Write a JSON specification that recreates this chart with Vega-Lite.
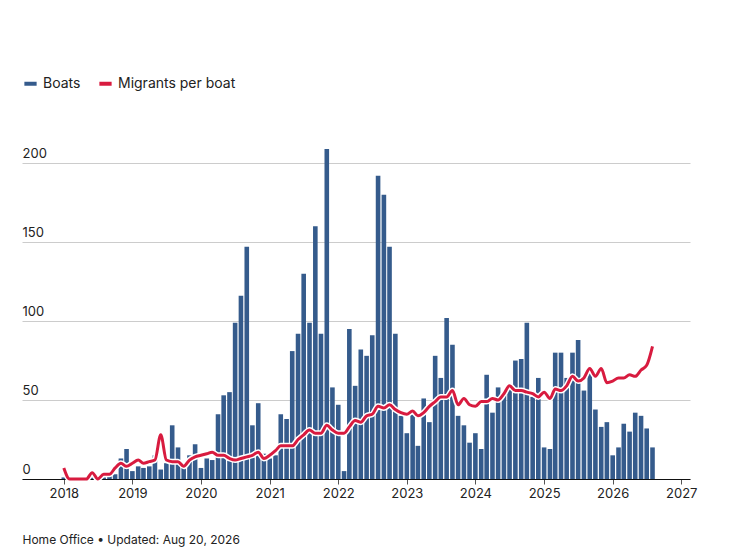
{
  "$schema": "https://vega.github.io/schema/vega-lite/v6.json",
  "autosize": "none",
  "width": 668,
  "height": 349,
  "padding": {"left": 22, "top": 130, "right": 44, "bottom": 79},
  "background": "white",
  "config": {"font": "Inter", "view": {"stroke": null}},
  "title": {"text": "Monthly boats crossing and average migrants per boat", "anchor": "start", "frame": "group", "fontSize": 19, "fontWeight": 700, "color": "#111", "offset": 78},
  "data": {"values": [
    {"d":"2018-01-01","b":1,"m":7},{"d":"2018-02-01","b":0,"m":0},{"d":"2018-03-01","b":0,"m":0},{"d":"2018-04-01","b":0,"m":0},{"d":"2018-05-01","b":0,"m":0},{"d":"2018-06-01","b":1,"m":4},{"d":"2018-07-01","b":0,"m":0},{"d":"2018-08-01","b":1,"m":3},{"d":"2018-09-01","b":2,"m":3},{"d":"2018-10-01","b":3,"m":7},{"d":"2018-11-01","b":13,"m":10},{"d":"2018-12-01","b":19,"m":8},
    {"d":"2019-01-01","b":5,"m":10},{"d":"2019-02-01","b":8,"m":12},{"d":"2019-03-01","b":7,"m":10},{"d":"2019-04-01","b":8,"m":11},{"d":"2019-05-01","b":15,"m":12},{"d":"2019-06-01","b":6,"m":28},{"d":"2019-07-01","b":10,"m":12},{"d":"2019-08-01","b":34,"m":11},{"d":"2019-09-01","b":20,"m":11},{"d":"2019-10-01","b":7,"m":8},{"d":"2019-11-01","b":15,"m":12},{"d":"2019-12-01","b":22,"m":14},
    {"d":"2020-01-01","b":7,"m":15},{"d":"2020-02-01","b":13,"m":16},{"d":"2020-03-01","b":12,"m":17},{"d":"2020-04-01","b":41,"m":15},{"d":"2020-05-01","b":53,"m":15},{"d":"2020-06-01","b":55,"m":13},{"d":"2020-07-01","b":99,"m":12},{"d":"2020-08-01","b":116,"m":13},{"d":"2020-09-01","b":147,"m":14},{"d":"2020-10-01","b":34,"m":15},{"d":"2020-11-01","b":48,"m":17},{"d":"2020-12-01","b":16,"m":13},
    {"d":"2021-01-01","b":13,"m":15},{"d":"2021-02-01","b":15,"m":18},{"d":"2021-03-01","b":41,"m":21},{"d":"2021-04-01","b":38,"m":21},{"d":"2021-05-01","b":81,"m":21},{"d":"2021-06-01","b":92,"m":25},{"d":"2021-07-01","b":130,"m":28},{"d":"2021-08-01","b":99,"m":31},{"d":"2021-09-01","b":160,"m":29},{"d":"2021-10-01","b":92,"m":29},{"d":"2021-11-01","b":209,"m":34},{"d":"2021-12-01","b":58,"m":31},
    {"d":"2022-01-01","b":47,"m":29},{"d":"2022-02-01","b":5,"m":29},{"d":"2022-03-01","b":95,"m":33},{"d":"2022-04-01","b":59,"m":37},{"d":"2022-05-01","b":82,"m":36},{"d":"2022-06-01","b":78,"m":40},{"d":"2022-07-01","b":91,"m":41},{"d":"2022-08-01","b":192,"m":46},{"d":"2022-09-01","b":180,"m":45},{"d":"2022-10-01","b":147,"m":47},{"d":"2022-11-01","b":92,"m":44},{"d":"2022-12-01","b":40,"m":42},
    {"d":"2023-01-01","b":29,"m":41},{"d":"2023-02-01","b":41,"m":43},{"d":"2023-03-01","b":21,"m":40},{"d":"2023-04-01","b":51,"m":42},{"d":"2023-05-01","b":36,"m":46},{"d":"2023-06-01","b":78,"m":49},{"d":"2023-07-01","b":64,"m":52},{"d":"2023-08-01","b":102,"m":52},{"d":"2023-09-01","b":85,"m":56},{"d":"2023-10-01","b":40,"m":47},{"d":"2023-11-01","b":34,"m":51},{"d":"2023-12-01","b":23,"m":47},
    {"d":"2024-01-01","b":29,"m":46},{"d":"2024-02-01","b":19,"m":49},{"d":"2024-03-01","b":66,"m":49},{"d":"2024-04-01","b":42,"m":51},{"d":"2024-05-01","b":58,"m":50},{"d":"2024-06-01","b":54,"m":54},{"d":"2024-07-01","b":57,"m":59},{"d":"2024-08-01","b":75,"m":56},{"d":"2024-09-01","b":76,"m":56},{"d":"2024-10-01","b":99,"m":55},{"d":"2024-11-01","b":52,"m":54},{"d":"2024-12-01","b":64,"m":52},
    {"d":"2025-01-01","b":20,"m":55},{"d":"2025-02-01","b":19,"m":51},{"d":"2025-03-01","b":80,"m":57},{"d":"2025-04-01","b":80,"m":56},{"d":"2025-05-01","b":64,"m":59},{"d":"2025-06-01","b":80,"m":65},{"d":"2025-07-01","b":88,"m":62},{"d":"2025-08-01","b":56,"m":64},{"d":"2025-09-01","b":68,"m":70},{"d":"2025-10-01","b":44,"m":65},{"d":"2025-11-01","b":33,"m":70},{"d":"2025-12-01","b":36,"m":61},
    {"d":"2026-01-01","b":15,"m":62},{"d":"2026-02-01","b":20,"m":64},{"d":"2026-03-01","b":35,"m":64},{"d":"2026-04-01","b":30,"m":66},{"d":"2026-05-01","b":42,"m":65},{"d":"2026-06-01","b":40,"m":69},{"d":"2026-07-01","b":32,"m":72},{"d":"2026-08-01","b":20,"m":84}
  ]},
  "encoding": {
    "x": {"field": "d", "type": "temporal",
      "scale": {"domain": [{"year": 2017, "month": 6, "date": 19}, {"year": 2027, "month": 1, "date": 21}]},
      "axis": {"values": [{"year":2018},{"year":2019},{"year":2020},{"year":2021},{"year":2022},{"year":2023},{"year":2024},{"year":2025},{"year":2026},{"year":2027}],
        "format": "%Y", "grid": false, "domainColor": "#111", "tickColor": "#555", "tickSize": 5, "labelFontSize": 13, "labelColor": "#222", "labelPadding": 3,
        "title": "Home Office • Updated: Aug 20, 2026", "titleAnchor": "start", "titleX": 0, "titleY": 55, "titleFontWeight": 400, "titleFontSize": 12, "titleColor": "#222"}}
  },
  "layer": [
    {"mark": {"type": "bar", "size": 4.6},
     "encoding": {
       "y": {"field": "b", "type": "quantitative", "scale": {"domain": [0, 221], "nice": false, "zero": false},
         "axis": {"values": [0, 50, 100, 150, 200], "title": null, "domain": false, "ticks": false, "gridColor": "#cccccc", "labelAlign": "left", "labelBaseline": "bottom", "labelPadding": 0, "labelOffset": -3, "labelFontSize": 13, "labelColor": "#222"}},
       "color": {"datum": "Boats", "type": "nominal",
         "scale": {"domain": ["Boats", "Migrants per boat"], "range": ["#355b8c", "#d81b3f"]},
         "legend": {"orient": "none", "legendX": 0, "legendY": -55, "direction": "horizontal", "title": null, "symbolType": "stroke", "symbolStrokeWidth": 4, "symbolSize": 150, "labelFontSize": 14, "labelColor": "#222", "columnPadding": 10, "labelOffset": 4}}}},
    {"mark": {"type": "line", "color": "white", "strokeWidth": 6, "interpolate": "monotone"},
     "encoding": {"y": {"field": "m", "type": "quantitative"}}},
    {"mark": {"type": "line", "strokeWidth": 3, "interpolate": "monotone"},
     "encoding": {"y": {"field": "m", "type": "quantitative"}, "color": {"datum": "Migrants per boat", "type": "nominal"}}},
    {"data": {"values": [{"t": "Daily Mail"}]},
     "mark": {"type": "text", "align": "right", "baseline": "middle", "dy": 50, "fontSize": 20, "font": "DejaVu Serif", "fontWeight": 700, "color": "#111"},
     "encoding": {"text": {"field": "t"}, "x": {"datum": {"year": 2027, "month": 5, "date": 15}, "type": "temporal"}, "y": {"datum": 0, "type": "quantitative"}}},
    {"data": {"values": [{}]},
     "mark": {"type": "rule", "color": "#111", "strokeWidth": 2},
     "encoding": {"x": {"datum": {"year": 2017, "month": 2, "date": 20}, "type": "temporal"}, "x2": {"datum": {"year": 2027, "month": 9, "date": 8}}, "y": {"datum": 294, "type": "quantitative"}}}
  ],
  "resolve": {"scale": {"y": "shared"}}
}
